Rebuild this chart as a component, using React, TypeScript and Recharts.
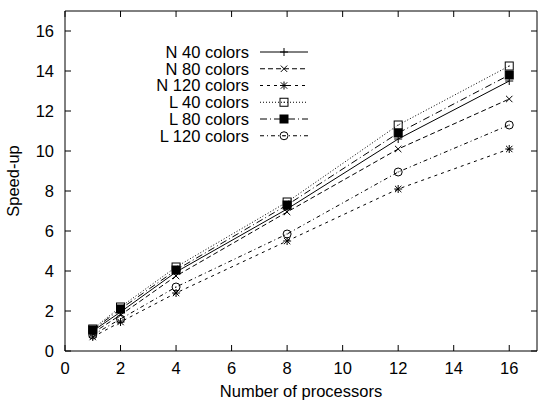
import React from 'react';
import { LineChart, Line, XAxis, YAxis, Legend } from 'recharts';

const processors = [1, 2, 4, 8, 12, 16];
const n40 = [1.0, 1.95, 3.95, 7.1, 10.6, 13.5];
const n80 = [0.9, 1.8, 3.75, 6.95, 10.1, 12.6];
const n120 = [0.7, 1.45, 2.9, 5.5, 8.1, 10.1];
const l40 = [1.1, 2.2, 4.2, 7.45, 11.3, 14.25];
const l80 = [1.05, 2.1, 4.05, 7.3, 10.9, 13.8];
const l120 = [0.8, 1.6, 3.2, 5.85, 8.95, 11.3];

const xTicks = [0, 2, 4, 6, 8, 10, 12, 14, 16];
const yTicks = [0, 2, 4, 6, 8, 10, 12, 14, 16];

const data = processors.map((p, i) => ({
  x: p,
  n40: n40[i],
  n80: n80[i],
  n120: n120[i],
  l40: l40[i],
  l80: l80[i],
  l120: l120[i],
}));

const FONT = '"Liberation Sans", Arial, Helvetica, sans-serif';
const FS = 16.5;

type Shape = 'plus' | 'cross' | 'star' | 'box' | 'fbox' | 'circle';

const series: { key: string; name: string; dash?: string; shape: Shape }[] = [
  { key: 'n40', name: 'N 40 colors', dash: undefined, shape: 'plus' },
  { key: 'n80', name: 'N 80 colors', dash: '5 3', shape: 'cross' },
  { key: 'n120', name: 'N 120 colors', dash: '3 4', shape: 'star' },
  { key: 'l40', name: 'L 40 colors', dash: '1 2', shape: 'box' },
  { key: 'l80', name: 'L 80 colors', dash: '7 3 1 3', shape: 'fbox' },
  { key: 'l120', name: 'L 120 colors', dash: '4 3 1 3', shape: 'circle' },
];

function Marker({ shape, cx, cy }: { shape: Shape; cx: number; cy: number }) {
  const s = 4;
  const d = 3.2;
  const st = { stroke: '#000', strokeWidth: 1, fill: 'none' };
  if (cx == null || cy == null) return null;
  switch (shape) {
    case 'plus':
      return (
        <g {...st}>
          <line x1={cx - s} x2={cx + s} y1={cy} y2={cy} />
          <line x1={cx} x2={cx} y1={cy - s} y2={cy + s} />
        </g>
      );
    case 'cross':
      return (
        <g {...st}>
          <line x1={cx - d} x2={cx + d} y1={cy - d} y2={cy + d} />
          <line x1={cx - d} x2={cx + d} y1={cy + d} y2={cy - d} />
        </g>
      );
    case 'star':
      return (
        <g {...st}>
          <line x1={cx - s} x2={cx + s} y1={cy} y2={cy} />
          <line x1={cx} x2={cx} y1={cy - s} y2={cy + s} />
          <line x1={cx - d} x2={cx + d} y1={cy - d} y2={cy + d} />
          <line x1={cx - d} x2={cx + d} y1={cy + d} y2={cy - d} />
        </g>
      );
    case 'box':
      return (
        <g>
          <rect x={cx - 4} y={cy - 4} width={8} height={8} {...st} />
          <rect x={cx - 0.5} y={cy - 0.5} width={1} height={1} fill="#000" />
        </g>
      );
    case 'fbox':
      return <rect x={cx - 4} y={cy - 4} width={8} height={8} fill="#000" stroke="#000" strokeWidth={1} />;
    case 'circle':
      return (
        <g>
          <circle cx={cx} cy={cy} r={4} {...st} />
          <rect x={cx - 0.5} y={cy - 0.5} width={1} height={1} fill="#000" />
        </g>
      );
  }
  return null;
}

const BottomTick = (p: any) => (
  <g>
    <line x1={p.x} x2={p.x} y1={p.y} y2={p.y - 6} stroke="#000" strokeWidth={1} />
    <text x={p.x} y={p.y + 23} textAnchor="middle" fontSize={FS} fill="#000" fontFamily={FONT}>
      {p.payload.value}
    </text>
  </g>
);

const TopTick = (p: any) => (
  <line x1={p.x} x2={p.x} y1={p.y} y2={p.y + 6} stroke="#000" strokeWidth={1} />
);

const LeftTick = (p: any) => (
  <g>
    <line x1={p.x} x2={p.x + 6} y1={p.y} y2={p.y} stroke="#000" strokeWidth={1} />
    <text x={p.x - 11} y={p.y} dy="0.36em" textAnchor="end" fontSize={FS} fill="#000" fontFamily={FONT}>
      {p.payload.value}
    </text>
  </g>
);

const RightTick = (p: any) => (
  <line x1={p.x} x2={p.x - 6} y1={p.y} y2={p.y} stroke="#000" strokeWidth={1} />
);

const renderLegend = () => (
  <svg width={180} height={100} style={{ display: 'block', overflow: 'visible' }}>
    {series.map((s, i) => {
      const y = 10 + i * 16.75;
      return (
        <g key={s.key}>
          <text x={109} y={y} dy="0.36em" textAnchor="end" fontSize={FS} fill="#000" fontFamily={FONT}>
            {s.name}
          </text>
          <line x1={120} x2={168} y1={y} y2={y} stroke="#000" strokeWidth={1} strokeDasharray={s.dash} />
          <Marker shape={s.shape} cx={144} cy={y} />
        </g>
      );
    })}
  </svg>
);

const YTitle = (props: any) => {
  const vb = props.viewBox || { x: 0, y: 11, width: 65, height: 340 };
  const cx = vb.x + 19;
  const cy = vb.y + vb.height / 2;
  return (
    <text
      x={cx}
      y={cy}
      transform={`rotate(-90, ${cx}, ${cy})`}
      textAnchor="middle"
      fontSize={FS}
      fill="#000"
      fontFamily={FONT}
    >
      Speed-up
    </text>
  );
};

const XTitle = (props: any) => {
  const vb = props.viewBox || { x: 65, y: 351, width: 472, height: 50 };
  return (
    <text x={vb.x + vb.width / 2} y={vb.y + vb.height - 4} textAnchor="middle" fontSize={FS} fill="#000" fontFamily={FONT}>
      Number of processors
    </text>
  );
};

export default function App() {
  return (
    <div style={{ position: 'absolute', left: 0, top: 0, background: '#fff' }}>
      <LineChart width={538} height={401} data={data} margin={{ top: 10, right: 0, left: 0, bottom: 0 }}>
        <XAxis
          dataKey="x"
          type="number"
          domain={[0, 17]}
          ticks={xTicks}
          allowDataOverflow
          height={50}
          tickSize={0}
          tickMargin={0}
          tickLine={false}
          tick={BottomTick}
          axisLine={{ stroke: '#000', strokeWidth: 1 }}
          label={{ content: XTitle }}
        />
        <XAxis
          xAxisId="top"
          dataKey="x"
          type="number"
          orientation="top"
          domain={[0, 17]}
          ticks={xTicks}
          allowDataOverflow
          height={1}
          tickSize={0}
          tickMargin={0}
          tickLine={false}
          tick={TopTick}
          axisLine={{ stroke: '#000', strokeWidth: 1 }}
        />
        <YAxis
          type="number"
          domain={[0, 17]}
          ticks={yTicks}
          allowDataOverflow
          width={65}
          tickSize={0}
          tickMargin={0}
          tickLine={false}
          tick={LeftTick}
          axisLine={{ stroke: '#000', strokeWidth: 1 }}
          label={{ content: YTitle }}
        />
        <YAxis
          yAxisId="right"
          type="number"
          orientation="right"
          domain={[0, 17]}
          ticks={yTicks}
          allowDataOverflow
          width={1}
          tickSize={0}
          tickMargin={0}
          tickLine={false}
          tick={RightTick}
          axisLine={{ stroke: '#000', strokeWidth: 1 }}
        />
        <Legend
          layout="vertical"
          align="center"
          verticalAlign="middle"
          content={renderLegend}
          wrapperStyle={{ left: 140, top: 42, width: 180, height: 100 }}
        />
        {series.map((s) => (
          <Line
            key={s.key}
            dataKey={s.key}
            name={s.name}
            stroke="#000"
            strokeWidth={1}
            strokeDasharray={s.dash}
            isAnimationActive={false}
            dot={(p: any) => <Marker key={`${s.key}-${p.index}`} shape={s.shape} cx={p.cx} cy={p.cy} />}
            activeDot={false}
          />
        ))}
      </LineChart>
    </div>
  );
}
